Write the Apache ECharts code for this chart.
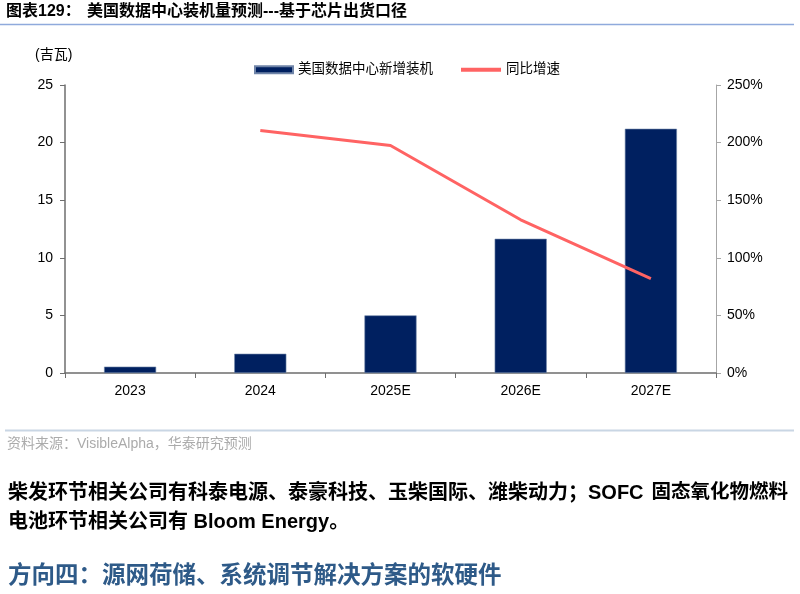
<!DOCTYPE html>
<html><head><meta charset="utf-8">
<script src="https://cdn.jsdelivr.net/npm/echarts@6/dist/echarts.min.js"></script>
<style>html,body{margin:0;padding:0;background:#fff}#c{width:800px;height:594px}</style>
</head><body><div id="c"></div>
<script>
const categories = ['2023', '2024', '2025E', '2026E', '2027E'];
const newCapacity = [0.55, 1.67, 5.0, 11.65, 21.2];
const yoyGrowth = [null, 210.5, 197.5, 133, 82];
const leftTicks = { min: 0, max: 25, interval: 5 };
const rightTicks = { min: 0, max: 250, interval: 50 };
const seriesNames = ['美国数据中心新增装机', '同比增速'];

const FF = "'Liberation Sans', Arial, 'Noto Sans CJK SC', sans-serif";
const chart = echarts.init(document.getElementById('c'), null, { renderer: 'canvas' });
chart.setOption({
  animation: false,
  backgroundColor: '#fff',
  textStyle: { fontFamily: FF },
  grid: { left: 65, right: 84, top: 85, bottom: 221, containLabel: false },
  legend: [
    { data: [seriesNames[0]], left: 249, top: 58, itemWidth: 38, itemHeight: 7, icon: 'rect', itemGap: 5,
      textStyle: { fontSize: 13.5, color: '#000', fontFamily: FF } },
    { data: [seriesNames[1]], left: 456, top: 58, itemWidth: 40, itemHeight: 4, icon: 'rect', itemGap: 5,
      textStyle: { fontSize: 13.5, color: '#000', fontFamily: FF } }
  ],
  xAxis: {
    type: 'category', data: categories, boundaryGap: true,
    axisLine: { lineStyle: { color: '#6e6e6e', width: 1.5 } },
    axisTick: { show: true, length: 5, lineStyle: { color: '#6e6e6e' } },
    axisLabel: { color: '#000', fontSize: 14, margin: 11, fontFamily: FF }
  },
  yAxis: [
    { type: 'value', min: leftTicks.min, max: leftTicks.max, interval: leftTicks.interval,
      splitLine: { show: false },
      axisLine: { show: true, lineStyle: { color: '#6e6e6e', width: 1.5 } },
      axisTick: { show: true, length: 5, lineStyle: { color: '#6e6e6e' } },
      axisLabel: { color: '#000', fontSize: 14, margin: 12, fontFamily: FF } },
    { type: 'value', min: rightTicks.min, max: rightTicks.max, interval: rightTicks.interval,
      position: 'right', splitLine: { show: false },
      axisLine: { show: true, lineStyle: { color: '#a6a6a6', width: 1 } },
      axisTick: { show: true, length: 5, lineStyle: { color: '#a6a6a6' } },
      axisLabel: { color: '#000', fontSize: 14, margin: 11, fontFamily: FF, formatter: '{value}%' } }
  ],
  series: [
    { name: seriesNames[0], type: 'bar', data: newCapacity, barWidth: '40%',
      itemStyle: { color: '#002060', borderColor: '#6f84a8', borderWidth: 0.6 } },
    { name: seriesNames[1], type: 'line', yAxisIndex: 1, data: yoyGrowth, showSymbol: false, symbol: 'none',
      lineStyle: { color: '#ff6363', width: 3 }, itemStyle: { color: '#ff6363' } }
  ],
  graphic: [
    { type: 'text', left: 6, top: 4, style: { text: '图表129：', fontSize: 16, fontWeight: 'bold', fill: '#000', fontFamily: FF } },
    { type: 'text', left: 87, top: 4, style: { text: '美国数据中心装机量预测---基于芯片出货口径', fontSize: 16, fontWeight: 'bold', fill: '#000', fontFamily: FF } },
    { type: 'line', shape: { x1: 0, y1: 24.5, x2: 794, y2: 24.5 }, style: { stroke: '#8faadc', lineWidth: 1.5 } },
    { type: 'text', left: 35, top: 48, style: { text: '(吉瓦)', fontSize: 14, fill: '#000', fontFamily: FF } },
    { type: 'line', shape: { x1: 5, y1: 430.5, x2: 794, y2: 430.5 }, style: { stroke: '#c9d6e4', lineWidth: 2 } },
    { type: 'text', left: 7, top: 437, style: { text: '资料来源：VisibleAlpha，华泰研究预测', fontSize: 14, fill: '#ababab', fontFamily: FF } },
    { type: 'text', left: 8, top: 483, style: { text: '柴发环节相关公司有科泰电源、泰豪科技、玉柴国际、潍柴动力；SOFC', fontSize: 20, fontWeight: 'bold', fill: '#000', fontFamily: FF } },
    { type: 'text', right: 12, top: 483, style: { text: '固态氧化物燃料', fontSize: 19.5, fontWeight: 'bold', fill: '#000', fontFamily: FF } },
    { type: 'text', left: 8, top: 512, style: { text: '电池环节相关公司有 Bloom Energy。', fontSize: 20, fontWeight: 'bold', fill: '#000', fontFamily: FF } },
    { type: 'text', left: 8, top: 565, style: { text: '方向四：源网荷储、系统调节解决方案的软硬件', fontSize: 23.5, fontWeight: 'bold', fill: '#2e5a88', fontFamily: FF } }
  ]
});
</script></body></html>
